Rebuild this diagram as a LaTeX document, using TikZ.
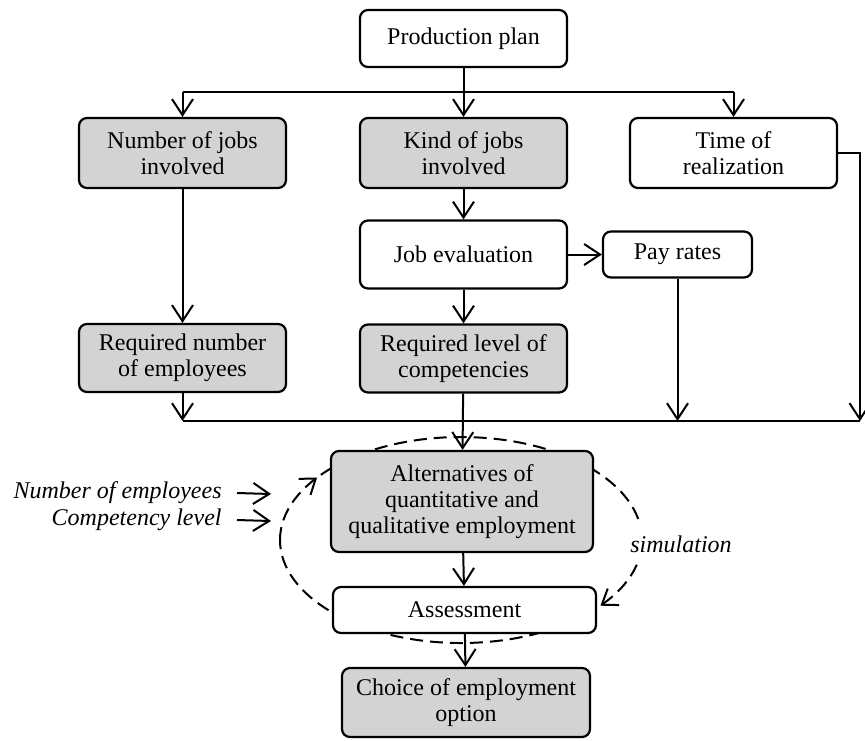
\documentclass[tikz,border=0pt]{standalone}
\usepackage{fontspec}
\setmainfont{Liberation Serif}
\usetikzlibrary{arrows.meta,decorations.markings,backgrounds}
\definecolor{boxgrey}{RGB}{211,211,211}
\begin{document}
\begin{tikzpicture}[x=0.5pt,y=-0.5pt,
  font=\fontsize{12}{13}\selectfont,
  box/.style={draw, line width=1.1pt, rounded corners=4pt, align=center,
    inner sep=0pt, fill=white},
  greybox/.style={box, fill=boxgrey},
  wide/.style={minimum width=103.5pt, minimum height=35pt},
  conn/.style={line width=1pt},
  tip/.style={-{Straight Barb[length=8pt,width=10.5pt]}},
  arr/.style={conn, tip},
  note/.style={font=\fontsize{12}{13}\selectfont\itshape, inner sep=1pt},
  loop/.style={line width=1pt, dash pattern=on 6.5pt off 3.5pt,
    postaction={decorate, decoration={markings,
      mark=at position 0.083 with {\arrow{Straight Barb[length=7pt,width=10pt]}},
      mark=at position 0.589 with {\arrow{Straight Barb[length=7pt,width=10pt]}}}}}]

\useasboundingbox (0,0) rectangle (865,740);

% boxes
\node[box, minimum width=103.5pt, minimum height=28.5pt] (plan) at (463.5,38.5) {Production plan};
\node[greybox, wide] (numjobs) at (182.5,153) {Number of jobs\\involved};
\node[greybox, wide] (kindjobs) at (463.5,153) {Kind of jobs\\involved};
\node[box, wide] (timereal) at (733.5,153) {Time of\\realization};
\node[box, minimum width=103.5pt, minimum height=34pt] (jobeval) at (463.5,254.5) {Job evaluation};
\node[box, minimum width=74.5pt, minimum height=23pt] (payrates) at (677.5,254.5) {Pay rates};
\node[greybox, minimum width=103.5pt, minimum height=34pt] (reqnum) at (182.5,358) {Required number\\of employees};
\node[greybox, minimum width=103.5pt, minimum height=34pt] (reqlev) at (463.5,358.5) {Required level of\\competencies};
\node[greybox, minimum width=131pt, minimum height=50.5pt] (altern) at (462,501.5)
  {Alternatives of\\quantitative and\\qualitative employment};
\node[box, minimum width=131.5pt, minimum height=23pt] (assess) at (464.5,610) {Assessment};
\node[greybox, minimum width=124pt, minimum height=34.5pt] (choice) at (466,702.5)
  {Choice of employment\\option};

% simulation inputs and label
\node[note, anchor=east] (inNum) at (224,493) {Number of employees};
\node[note, anchor=east] (inComp) at (224,520) {Competency level};
\node[note, fill=white, inner ysep=6pt] (simlabel) at (681,544) {simulation};

% simulation loop behind the boxes
\begin{scope}[on background layer]
  \draw[loop] (280,540) arc[start angle=180, end angle=-180, x radius=90.5pt, y radius=51.5pt];
\end{scope}

% upper distribution
\coordinate (busTopL) at (182.5,92);
\coordinate (busTopR) at (733.5,92);
\draw[conn] (busTopL) -- (busTopR);
\draw[arr] (plan) -- (kindjobs);
\draw[arr] (busTopL) -- (numjobs);
\draw[arr] (busTopR) -- (timereal);

% middle connectors
\draw[arr] (kindjobs) -- (jobeval);
\draw[arr] (jobeval) -- (payrates);
\draw[arr] (numjobs) -- (reqnum);
\draw[arr] (jobeval) -- (reqlev);

% lower collection line
\coordinate (busL) at (182.5,421);
\coordinate (busPay) at (677.5,421);
\coordinate (busR) at (860,421);
\coordinate (timeTurn) at (860,153);
\draw[conn] (busL) -- (busR);
\draw[arr] (reqnum) -- (busL);
\draw[arr] (payrates) -- (busPay);
\draw[arr] (timereal.east) -- (timeTurn) -- (busR);

% final chain
\draw[arr] (reqlev) -- (altern);
\draw[arr] (altern) -- (assess);
\draw[arr] (assess) -- (choice);

% input arrows
\coordinate (inNumEnd) at (271,494);
\coordinate (inCompEnd) at (271,521);
\draw[arr] ([xshift=6.5pt]inNum.east) -- (inNumEnd);
\draw[arr] ([xshift=6.5pt]inComp.east) -- (inCompEnd);
\end{tikzpicture}
\end{document}
